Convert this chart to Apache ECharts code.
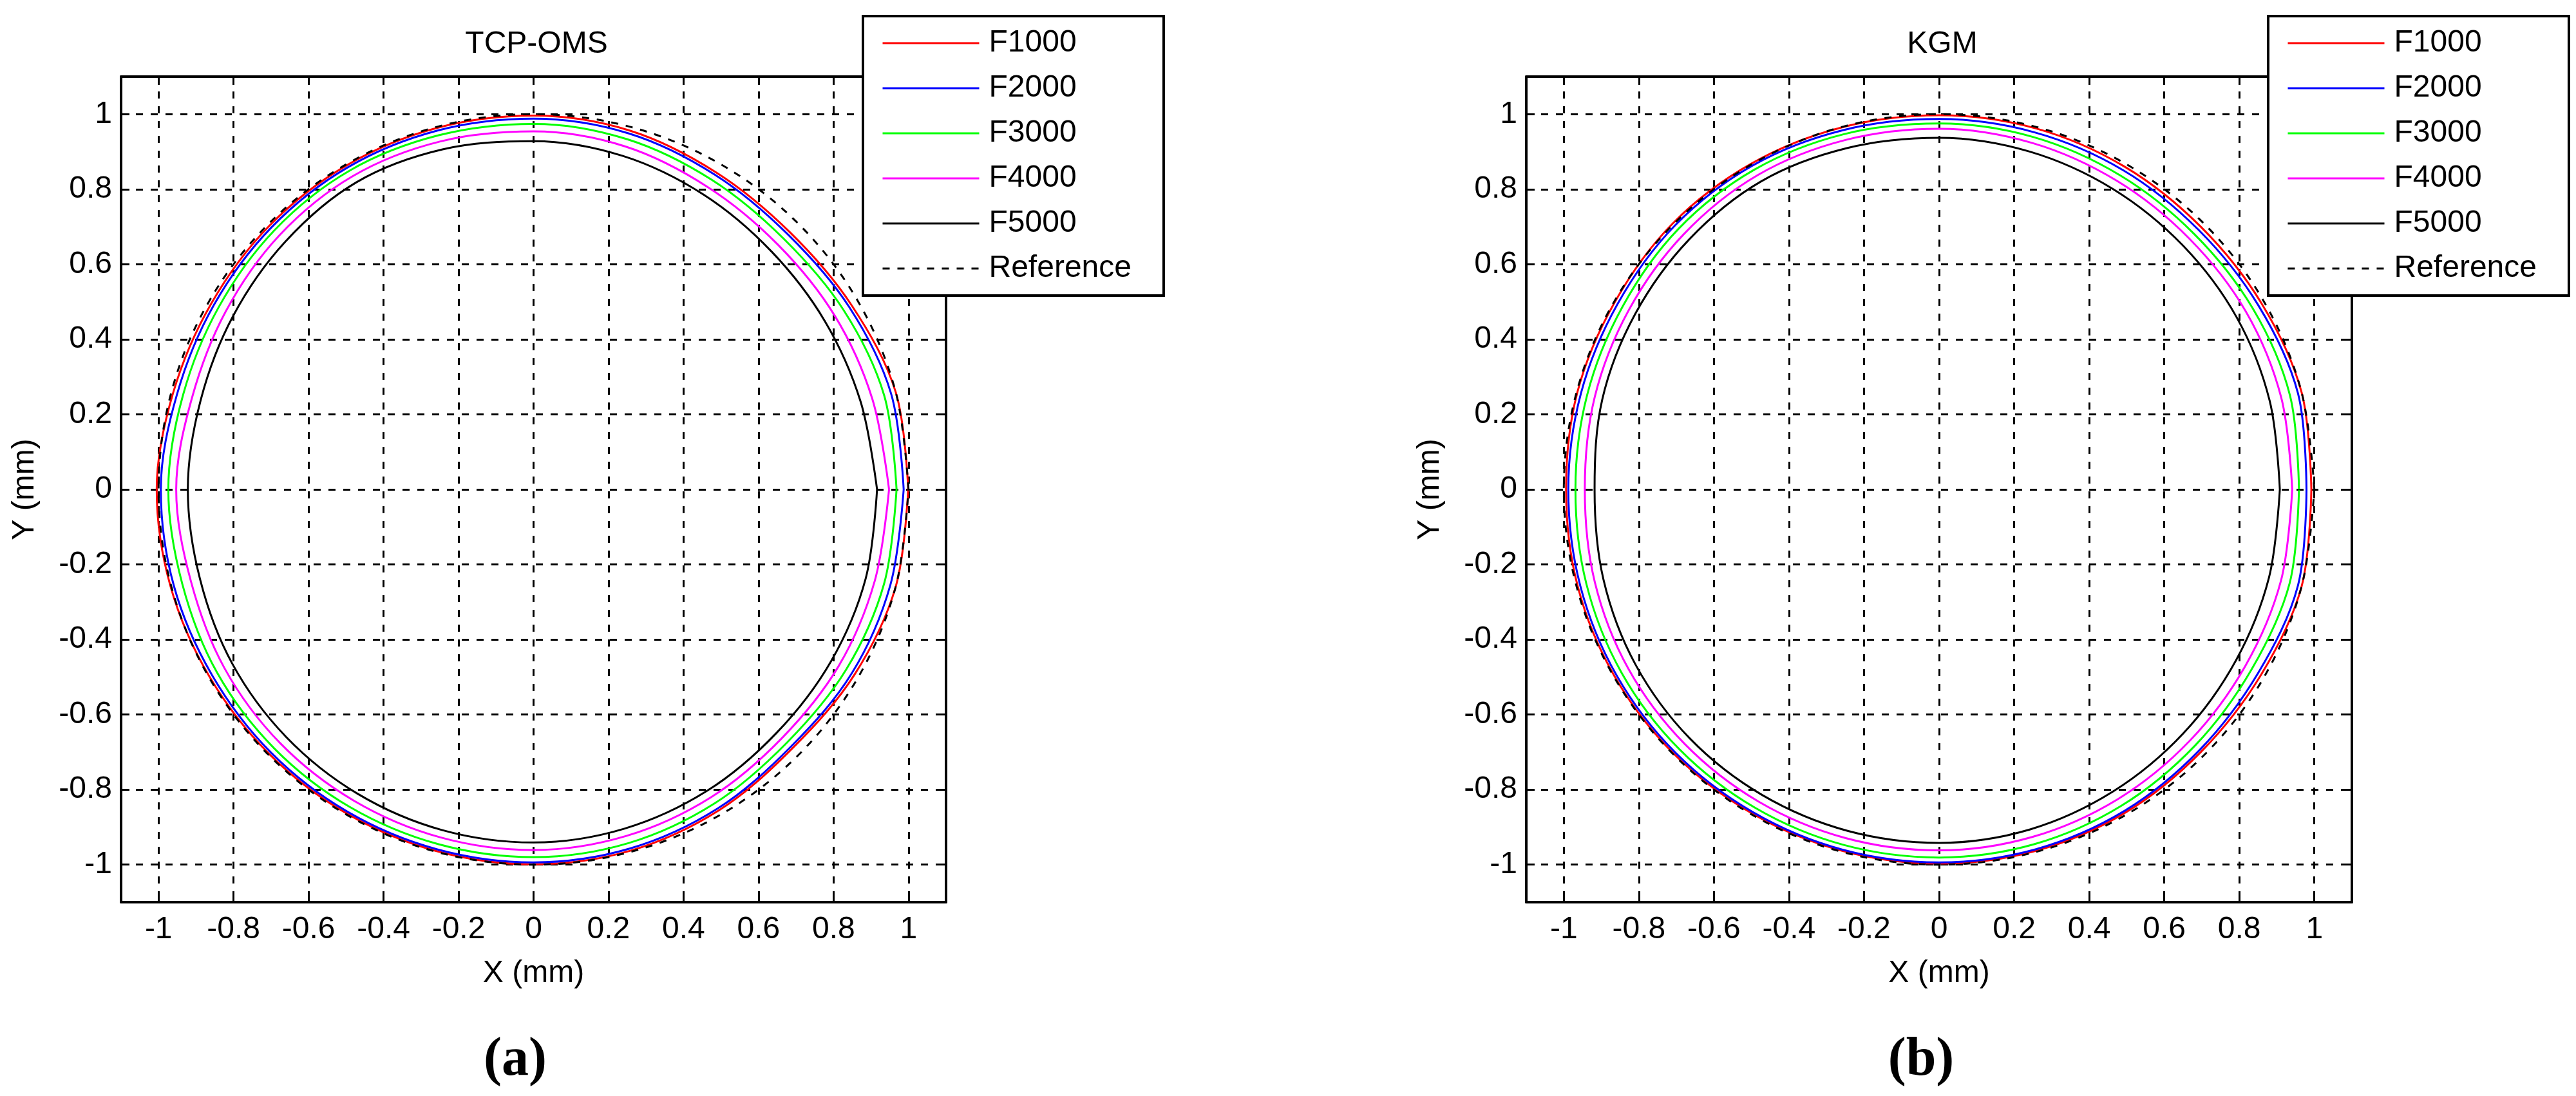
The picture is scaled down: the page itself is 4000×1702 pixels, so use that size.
<!DOCTYPE html>
<html>
<head>
<meta charset="utf-8">
<script src="https://cdn.jsdelivr.net/npm/echarts@6/dist/echarts.min.js"></script>
<style>
html, body { margin: 0; padding: 0; background: #fff; }
#chart { width: 4000px; height: 1702px; }
</style>
</head>
<body>
<div id="chart"></div>
<script>
// contour radii (mm), every 15 degrees starting at +X, counter-clockwise
var angles = [0, 15, 30, 45, 60, 75, 90, 105, 120, 135, 150, 165, 180, 195, 210, 225, 240, 255, 270, 285, 300, 315, 330, 345]
var names = ['F1000', 'F2000', 'F3000', 'F4000', 'F5000', 'Reference']
var colors = ['#ff0000', '#0000ff', '#00ff00', '#ff00ff', '#000000', '#000000']

var refR = [1, 1, 1, 1, 1, 1, 1, 1, 1, 1, 1, 1, 1, 1, 1, 1, 1, 1, 1, 1, 1, 1, 1, 1]

// TCP-OMS
var tcpF1000 = [0.999, 1.000, 0.980, 0.968, 0.975, 0.990, 0.996, 0.997, 0.997, 0.995, 0.992, 0.995, 1.005, 1.002, 0.998, 0.997, 0.997, 0.998, 0.999, 0.997, 0.988, 0.976, 0.988, 1.000]
var tcpF2000 = [0.987, 0.987, 0.972, 0.960, 0.968, 0.982, 0.988, 0.990, 0.991, 0.988, 0.984, 0.984, 0.994, 0.993, 0.990, 0.991, 0.992, 0.993, 0.994, 0.991, 0.982, 0.970, 0.980, 0.985]
var tcpF3000 = [0.968, 0.968, 0.955, 0.944, 0.952, 0.966, 0.974, 0.977, 0.981, 0.977, 0.970, 0.968, 0.974, 0.970, 0.975, 0.977, 0.978, 0.979, 0.980, 0.976, 0.966, 0.955, 0.962, 0.968]
var tcpF4000 = [0.948, 0.935, 0.927, 0.922, 0.930, 0.946, 0.954, 0.960, 0.964, 0.958, 0.948, 0.943, 0.953, 0.946, 0.952, 0.956, 0.958, 0.960, 0.961, 0.956, 0.947, 0.937, 0.940, 0.942]
var tcpF5000 = [0.916, 0.903, 0.897, 0.897, 0.907, 0.920, 0.928, 0.938, 0.945, 0.935, 0.925, 0.919, 0.922, 0.921, 0.928, 0.933, 0.937, 0.940, 0.941, 0.936, 0.927, 0.917, 0.916, 0.917]

// KGM
var kgmF1000 = [0.992, 1.000, 0.992, 0.988, 0.992, 0.996, 0.997, 0.999, 1.002, 1.003, 0.998, 0.998, 0.994, 0.997, 0.998, 0.998, 0.997, 0.997, 0.997, 0.997, 0.994, 0.988, 0.990, 1.000]
var kgmF2000 = [0.979, 0.990, 0.982, 0.978, 0.982, 0.985, 0.987, 0.991, 0.996, 0.995, 0.989, 0.988, 0.988, 0.990, 0.992, 0.993, 0.993, 0.994, 0.994, 0.993, 0.989, 0.982, 0.981, 0.990]
var kgmF3000 = [0.959, 0.968, 0.965, 0.962, 0.966, 0.972, 0.975, 0.980, 0.984, 0.982, 0.974, 0.971, 0.969, 0.973, 0.977, 0.979, 0.980, 0.981, 0.981, 0.979, 0.973, 0.965, 0.961, 0.967]
var kgmF4000 = [0.941, 0.944, 0.945, 0.944, 0.949, 0.956, 0.961, 0.964, 0.967, 0.962, 0.955, 0.950, 0.944, 0.950, 0.956, 0.959, 0.961, 0.962, 0.962, 0.959, 0.953, 0.946, 0.942, 0.943]
var kgmF5000 = [0.908, 0.912, 0.916, 0.919, 0.925, 0.932, 0.937, 0.942, 0.948, 0.942, 0.935, 0.929, 0.918, 0.926, 0.934, 0.939, 0.941, 0.942, 0.942, 0.938, 0.929, 0.920, 0.913, 0.910]

var tcpRadii = [tcpF1000, tcpF2000, tcpF3000, tcpF4000, tcpF5000, refR]
var kgmRadii = [kgmF1000, kgmF2000, kgmF3000, kgmF4000, kgmF5000, refR]

function toXY(radii) {
    var pts = radii.map(function (r, i) {
        var a = angles[i] * Math.PI / 180
        return [r * Math.cos(a), r * Math.sin(a)]
    })
    pts.push(pts[0])
    return pts
}

var font = 'Liberation Sans, Arial, sans-serif'

function axis(grid, pos, main, name, gap) {
    return {
        type: 'value',
        gridIndex: grid,
        position: pos,
        min: -1.1,
        max: 1.1,
        splitNumber: 11,
        name: main ? name : '',
        nameLocation: 'middle',
        nameGap: gap,
        nameTextStyle: { color: '#000', fontSize: 48, fontFamily: font },
        axisLine: { show: true, onZero: false, lineStyle: { color: '#000', width: 4 } },
        axisTick: { show: true, inside: true, length: 13, lineStyle: { color: '#000', width: 3 } },
        axisLabel: {
            show: main,
            showMinLabel: false,
            showMaxLabel: false,
            color: '#000',
            fontSize: 48,
            fontFamily: font,
            margin: (pos === 'bottom') ? 19 : 14
        },
        splitLine: { show: main, lineStyle: { color: '#000', width: 3, type: [11, 12] } }
    }
}

var grids = [
    { left: 188, top: 119, width: 1281, height: 1282, show: false },
    { left: 2370, top: 119, width: 1282, height: 1282, show: false }
]

var xAxes = [], yAxes = [], series = [], legends = []
;[tcpRadii, kgmRadii].forEach(function (set, g) {
    xAxes.push(axis(g, 'bottom', true, 'X (mm)', 87))
    xAxes.push(axis(g, 'top', false))
    yAxes.push(axis(g, 'left', true, 'Y (mm)', 125))
    yAxes.push(axis(g, 'right', false))
    set.forEach(function (radii, k) {
        series.push({
            name: names[k],
            type: 'line',
            xAxisIndex: g * 2,
            yAxisIndex: g * 2,
            data: toXY(radii),
            // 0.34 keeps the bezier handles close to a true arc for 15 degree steps
            smooth: 0.34,
            symbol: 'none',
            silent: true,
            lineStyle: { color: colors[k], width: 3, type: k === 5 ? [11, 12] : 'solid' },
            itemStyle: { color: colors[k] }
        })
    })
    legends.push({
        orient: 'vertical',
        left: g === 0 ? 1340 : 3522,
        top: 25,
        data: names,
        itemWidth: 150,
        itemHeight: 50,
        itemGap: 20,
        backgroundColor: '#fff',
        borderColor: '#000',
        borderWidth: 4,
        borderRadius: 0,
        padding: [17, 50, 17, 29],
        selectedMode: false,
        itemStyle: { opacity: 0 },
        lineStyle: { width: 3 },
        textStyle: { color: '#000', fontSize: 48, fontFamily: font, padding: [0, 0, 0, 10], lineHeight: 50 }
    })
})

var titleStyle = { color: '#000', fontSize: 48, fontWeight: 'normal', fontFamily: font }
var capRich = {
    p: { fontSize: 84, fontFamily: 'Liberation Serif, Times New Roman, serif', color: '#000' },
    b: { fontSize: 84, fontWeight: 'bold', fontFamily: 'Liberation Serif, Times New Roman, serif', color: '#000' }
}

var myChart = echarts.init(document.getElementById('chart'))
option = {
    animation: false,
    backgroundColor: '#fff',
    title: [
        { text: 'TCP-OMS', left: 828, top: 40, textAlign: 'center', textStyle: titleStyle },
        { text: 'KGM', left: 3011, top: 40, textAlign: 'center', textStyle: titleStyle },
        { text: '{p|(}{b|a}{p|)}', left: 795, top: 1600, textAlign: 'center', textStyle: { rich: capRich } },
        { text: '{p|(}{b|b}{p|)}', left: 2978, top: 1600, textAlign: 'center', textStyle: { rich: capRich } }
    ],
    legend: legends,
    grid: grids,
    xAxis: xAxes,
    yAxis: yAxes,
    series: series
}
myChart.setOption(option)
</script>
</body>
</html>
